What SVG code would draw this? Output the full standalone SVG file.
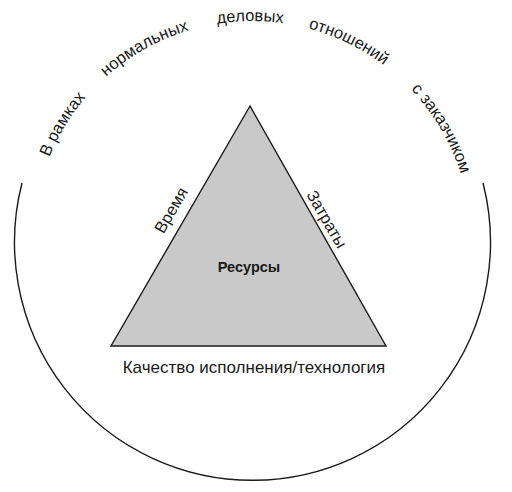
<svg xmlns="http://www.w3.org/2000/svg" width="512" height="492" viewBox="0 0 512 492">
  <style>
    .lbl { font-family: "Liberation Sans", Arial, sans-serif; font-size: 16.5px; fill: #1a1a1a; }
    .bold { font-weight: bold; font-size: 14.5px; }
    .line { fill: none; stroke: #1a1a1a; stroke-width: 1.4; }
  </style>
  <defs>
    <path id="textArc" d="M 33 240 A 219 219 0 0 1 471 240"/>
  </defs>
  <rect width="512" height="492" fill="#ffffff"/>
  <g id="circle">
    <path class="line" d="M 22 183 A 238 238 0 1 0 483 183"/>
  </g>
  <g id="arc-text" class="lbl">
    <text text-anchor="middle"><textPath href="#textArc" startOffset="120">В рамках</textPath></text>
    <text text-anchor="middle"><textPath href="#textArc" startOffset="232">нормальных</textPath></text>
    <text text-anchor="middle"><textPath href="#textArc" startOffset="342">деловых</textPath></text>
    <text text-anchor="middle"><textPath href="#textArc" startOffset="443">отношений</textPath></text>
    <text text-anchor="middle"><textPath href="#textArc" startOffset="571">с заказчиком</textPath></text>
  </g>
  <g id="triangle">
    <polygon points="250,106 111,346 386,346" fill="#c9c9c9" stroke="#1a1a1a" stroke-width="1.4" stroke-linejoin="miter"/>
    <text class="lbl bold" x="249" y="272" text-anchor="middle">Ресурсы</text>
  </g>
  <g id="side-labels" class="lbl">
    <text x="0" y="0" text-anchor="middle" transform="translate(176,213) rotate(-60)">Время</text>
    <text x="0" y="0" text-anchor="middle" transform="translate(322,222) rotate(60)">Затраты</text>
    <text x="254" y="373" text-anchor="middle" style="font-size:17px">Качество исполнения/технология</text>
  </g>
</svg>
